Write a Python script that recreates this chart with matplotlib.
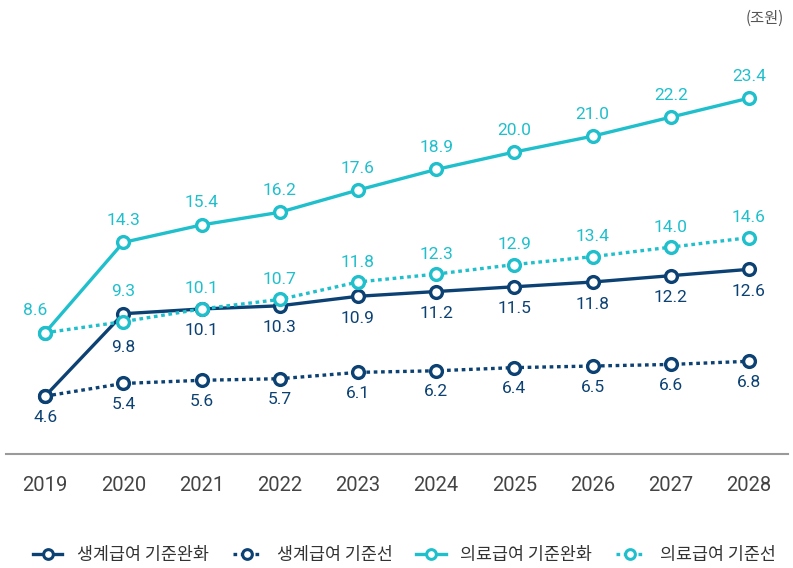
import matplotlib
matplotlib.use("Agg")
from matplotlib import pyplot as plt

years = [2019, 2020, 2021, 2022, 2023, 2024, 2025, 2026, 2027, 2028]
livingEased = [4.6, 9.8, 10.1, 10.3, 10.9, 11.2, 11.5, 11.8, 12.2, 12.6]
livingBase = [4.6, 5.4, 5.6, 5.7, 6.1, 6.2, 6.4, 6.5, 6.6, 6.8]
medicalEased = [8.6, 14.3, 15.4, 16.2, 17.6, 18.9, 20.0, 21.0, 22.2, 23.4]
medicalBase = [8.6, 9.3, 10.1, 10.7, 11.8, 12.3, 12.9, 13.4, 14.0, 14.6]
seriesNames = ["생계급여 기준완화", "생계급여 기준선", "의료급여 기준완화", "의료급여 기준선"]

NAVY = "#0c4173"
CYAN = "#20bfcc"
DOT = (0, (1.1, 1.1))

plt.rcParams['font.family'] = ['Roboto', 'Noto Sans CJK KR', 'DejaVu Sans']

fig = plt.figure(figsize=(7.93, 5.68), dpi=100)
ax = fig.add_axes([6 / 793, 1 - 454 / 568, 782 / 793, (454 - 30) / 568])

lineKw = dict(linewidth=2.4, marker='o', markersize=8.5, markerfacecolor='white',
              markeredgewidth=2.4)
ax.plot(years, livingEased, color=NAVY, label=seriesNames[0], zorder=4, **lineKw)
ax.plot(years, livingBase, color=NAVY, linestyle=DOT, label=seriesNames[1], zorder=3, **lineKw)
ax.plot(years, medicalEased, color=CYAN, label=seriesNames[2], zorder=3, **lineKw)
ax.plot(years, medicalBase, color=CYAN, linestyle=DOT, label=seriesNames[3], zorder=5, **lineKw)

ax.set_xlim(2018.5, 2028.5)
ax.set_ylim(0.95, 27.7)


def label(x, y, color, dy, dx=0):
    ax.annotate(f"{y:.1f}", (x, y), xytext=(dx, dy), textcoords='offset pixels',
                ha='center', va='center', color=color, fontsize=12.5)


for i, yr in enumerate(years):
    # dark labels below, cyan labels above
    if i > 0:
        label(yr, livingEased[i], NAVY, -34 if i == 1 else -22)
    label(yr, livingBase[i], NAVY, -21)
    if i > 0:
        label(yr, medicalEased[i], CYAN, 22)
    label(yr, medicalBase[i], CYAN, 30 if i == 1 else (22 if i == 0 else 20), dx=-10 if i == 0 else 0)

for side in ['left', 'right', 'top']:
    ax.spines[side].set_visible(False)
ax.spines['bottom'].set_color('#9a9a9a')
ax.spines['bottom'].set_linewidth(1.5)
ax.set_yticks([])
ax.set_xticks(years)
ax.set_xticklabels([str(y) for y in years], fontsize=14.5, color='#444444')
ax.tick_params(axis='x', length=0, pad=16)

fig.text(784 / 793, 1 - 18 / 568, "(조원)", ha='right', va='center', fontsize=11,
         color='#555555', family=['Noto Sans CJK KR', 'DejaVu Sans'])

leg = fig.legend(loc='center', bbox_to_anchor=(0.51, 1 - 555 / 568), ncol=4, frameon=False,
                 handlelength=1.7, columnspacing=1.35, handletextpad=0.85,
                 prop={'family': ['Noto Sans CJK KR', 'DejaVu Sans'], 'size': 12.5})
for t in leg.get_texts():
    t.set_color('#333333')
for h in leg.legend_handles:
    h.set_markersize(7)
    h.set_markeredgewidth(2.2)

fig.savefig("out.png", dpi=100)
